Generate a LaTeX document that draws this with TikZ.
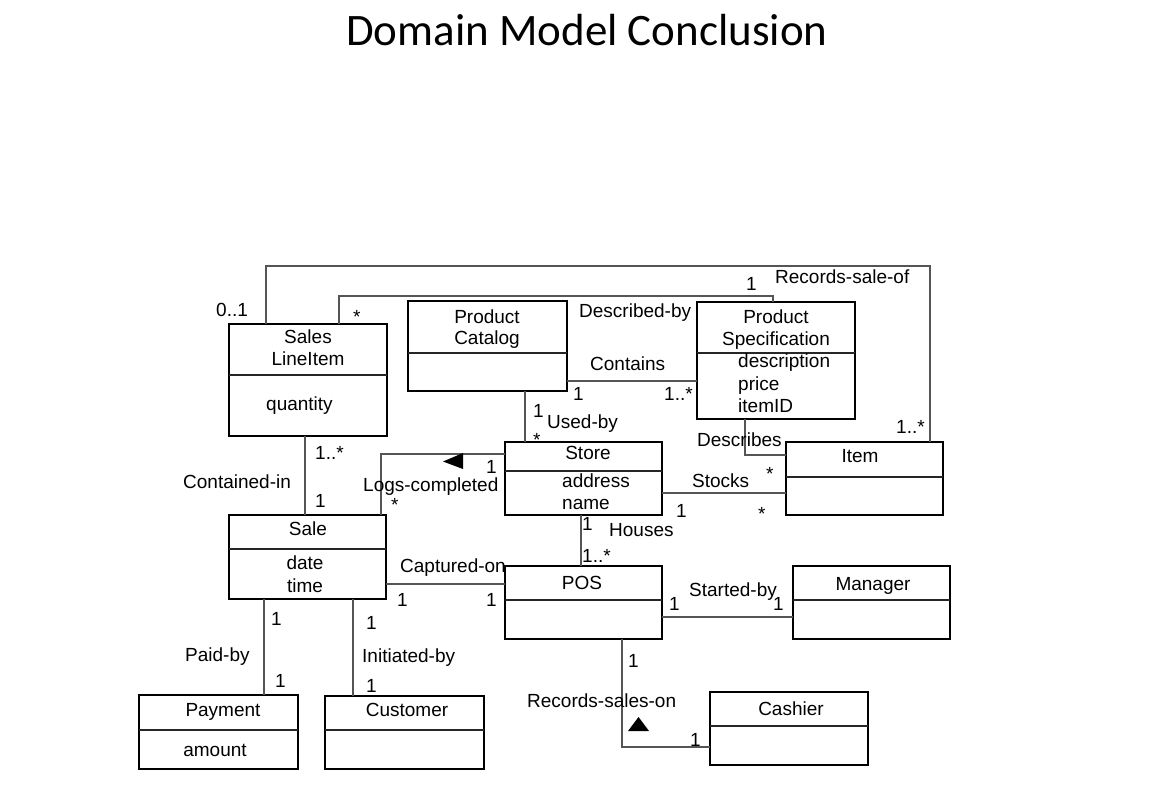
\documentclass[tikz,border=0pt]{standalone}
\usepackage{fontspec}
\setmainfont{Liberation Sans}
\newfontfamily\titlefont{Carlito}
\newcommand\labfont{\fontsize{19}{22}\selectfont}
\definecolor{conncol}{RGB}{85,85,85}
\newcommand\classdiv[2]{\path (0,#2) coordinate (tmpd); \draw[div] (#1.west |- tmpd) -- (#1.east |- tmpd);}
\begin{document}
\begin{tikzpicture}[x=1pt,y=-1pt,
  cls/.style={draw=black, line width=1.8pt, anchor=north west, inner sep=0, outer sep=0, fill=white},
  div/.style={line width=1.2pt, draw=black!85},
  conn/.style={draw=conncol, line width=1.3pt},
  lbl/.style={inner sep=0, anchor=base west, font=\labfont},
  ctr/.style={inner sep=0, anchor=base, font=\labfont},
  tri/.style={fill=black}]
\useasboundingbox[fill=white] (0,0) rectangle (1173,806);
\node[inner sep=0, anchor=base, font=\titlefont\fontsize{45}{50}\selectfont] (title) at (587,45) {Domain Model Conclusion};

% coordinates for connector corners
\path (266,266) coordinate (rs1) (930,266) coordinate (rs2)
      (339,296) coordinate (db1) (773,296) coordinate (db2)
      (600,381) coordinate (ct) (525,420) coordinate (ub)
      (745,455) coordinate (ds) (700,493) coordinate (st)
      (381,454) coordinate (lc) (305,480) coordinate (ci)
      (450,584) coordinate (co) (581,540) coordinate (ho)
      (700,617) coordinate (sb) (622,747) coordinate (rso)
      (264,650) coordinate (pb) (353,650) coordinate (ib);

% classes
\node[cls, minimum width=158, minimum height=112] (sli) at (229,324) {};
\node[cls, minimum width=159, minimum height=90] (pc) at (408,301) {};
\node[cls, minimum width=158, minimum height=117] (ps) at (697,302) {};
\node[cls, minimum width=157, minimum height=73] (store) at (505,442) {};
\node[cls, minimum width=157, minimum height=73] (item) at (786,442) {};
\node[cls, minimum width=157, minimum height=84] (sale) at (229,515) {};
\node[cls, minimum width=157, minimum height=73] (pos) at (505,566) {};
\node[cls, minimum width=157, minimum height=73] (mgr) at (793,566) {};
\node[cls, minimum width=159, minimum height=74] (pay) at (139,695) {};
\node[cls, minimum width=159, minimum height=73] (cust) at (325,696) {};
\node[cls, minimum width=158, minimum height=73] (cash) at (710,692) {};

\classdiv{sli}{375}
\classdiv{pc}{353}
\classdiv{ps}{353}
\classdiv{store}{471}
\classdiv{item}{477}
\classdiv{sale}{549}
\classdiv{pos}{600}
\classdiv{mgr}{600}
\classdiv{pay}{730}
\classdiv{cust}{730}
\classdiv{cash}{726}

% connectors
\draw[conn] (sli.north -| rs1) -- (rs1) -- (rs2) -- (item.north -| rs2);
\draw[conn] (sli.north -| db1) -- (db1) -- (db2) -- (ps.north -| db2);
\draw[conn] (pc.east |- ct) -- (ps.west |- ct);
\draw[conn] (pc.south -| ub) -- (store.north -| ub);
\draw[conn] (ps.south -| ds) -- (ds) -- (item.west |- ds);
\draw[conn] (store.east |- st) -- (item.west |- st);
\draw[conn] (store.west |- lc) -- (lc) -- (sale.north -| lc);
\draw[conn] (sli.south -| ci) -- (sale.north -| ci);
\draw[conn] (sale.east |- co) -- (pos.west |- co);
\draw[conn] (store.south -| ho) -- (pos.north -| ho);
\draw[conn] (pos.east |- sb) -- (mgr.west |- sb);
\draw[conn] (pos.south -| rso) -- (rso) -- (cash.west |- rso);
\draw[conn] (sale.south -| pb) -- (pay.north -| pb);
\draw[conn] (sale.south -| ib) -- (cust.north -| ib);

% direction triangles
\fill[tri] (443,461.5) -- (463,453) -- (463,469) -- cycle;
\fill[tri] (628,731) -- (649,731) -- (638.5,717) -- cycle;

% class texts
\node[ctr] (n1) at (308,343) {Sales};
\node[ctr] (n2) at (308,365) {LineItem};
\node[lbl] (n3) at (266,410) {quantity};
\node[ctr] (n4) at (487,323) {Product};
\node[ctr] (n5) at (487,344) {Catalog};
\node[ctr] (n6) at (776,323) {Product};
\node[ctr] (n7) at (776,345) {Specification};
\node[lbl] (n8) at (738,367) {description};
\node[lbl] (n9) at (738,390) {price};
\node[lbl] (n10) at (738,412) {itemID};
\node[ctr] (n11) at (588,459) {Store};
\node[lbl] (n12) at (562,487) {address};
\node[lbl] (n13) at (562,509) {name};
\node[ctr] (n14) at (860,462) {Item};
\node[ctr] (n15) at (308,535) {Sale};
\node[ctr] (n16) at (305,569) {date};
\node[ctr] (n17) at (305,592) {time};
\node[ctr] (n18) at (582,589) {POS};
\node[ctr] (n19) at (873,590) {Manager};
\node[ctr] (n20) at (223,716) {Payment};
\node[ctr] (n21) at (215,756) {amount};
\node[ctr] (n22) at (407,716) {Customer};
\node[ctr] (n23) at (791,715) {Cashier};

% association labels
\node[lbl] (a1) at (216,316) {0..1};
\node[lbl] (a2) at (353,323) {*};
\node[lbl] (a3) at (746,290) {1};
\node[lbl] (a4) at (775,283) {Records-sale-of};
\node[lbl] (a5) at (579,317) {Described-by};
\node[lbl] (a6) at (590,370) {Contains};
\node[lbl] (a7) at (573,400) {1};
\node[lbl] (a8) at (664,400) {1..*};
\node[lbl] (a9) at (896,433) {1..*};
\node[lbl] (a10) at (547,428) {Used-by};
\node[lbl] (a11) at (533,417) {1};
\node[lbl] (a12) at (533,446) {*};
\node[lbl] (a13) at (697,446) {Describes};
\node[lbl] (a14) at (766,480) {*};
\node[lbl] (a15) at (692,487) {Stocks};
\node[lbl] (a16) at (676,517) {1};
\node[lbl] (a17) at (758,520) {*};
\node[lbl] (a18) at (315,459) {1..*};
\node[lbl] (a19) at (183,488) {Contained-in};
\node[lbl] (a20) at (315,507) {1};
\node[lbl] (a21) at (363,491) {Logs-completed};
\node[lbl] (a22) at (391,511) {*};
\node[lbl] (a23) at (486,473) {1};
\node[lbl] (a24) at (400,572) {Captured-on};
\node[lbl] (a25) at (397,606) {1};
\node[lbl] (a26) at (486,606) {1};
\node[lbl] (a27) at (582,530) {1};
\node[lbl] (a28) at (609,536) {Houses};
\node[lbl] (a29) at (582,562) {1..*};
\node[lbl] (a30) at (689,596) {Started-by};
\node[lbl] (a31) at (669,610) {1};
\node[lbl] (a32) at (773,610) {1};
\node[lbl] (a33) at (271,625) {1};
\node[lbl] (a34) at (185,661) {Paid-by};
\node[lbl] (a35) at (275,687) {1};
\node[lbl] (a36) at (366,629) {1};
\node[lbl] (a37) at (362,662) {Initiated-by};
\node[lbl] (a38) at (366,692) {1};
\node[lbl] (a39) at (628,667) {1};
\node[lbl] (a40) at (527,707) {Records-sales-on};
\node[lbl] (a41) at (690,746) {1};
\end{tikzpicture}
\end{document}
